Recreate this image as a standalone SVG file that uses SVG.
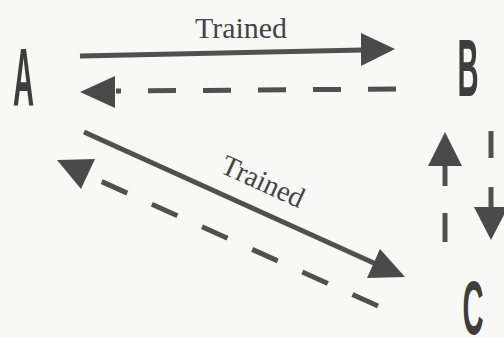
<svg xmlns="http://www.w3.org/2000/svg" width="504" height="337" viewBox="0 0 504 337">
  <style>
    .letter { font-family: "Liberation Sans", "DejaVu Sans", sans-serif; font-weight: bold; font-size: 81px; fill: #3d3d3d; text-anchor: middle; }
    .label { font-family: "Liberation Serif", "Times New Roman", serif; font-size: 29px; fill: #444; }
    .solid { stroke: #505050; stroke-width: 5; fill: none; }
    .dash { stroke: #505050; stroke-width: 5; fill: none; stroke-dasharray: 28 27; }
    .head { fill: #4a4a4a; stroke: none; }
  </style>
  <rect x="0" y="0" width="504" height="337" fill="#f8f8f6"/>

  <g id="node-A">
    <text class="letter" transform="translate(23.5,105) scale(0.36,1)" x="0" y="0">A</text>
  </g>
  <g id="node-B">
    <text class="letter" transform="translate(468,96) scale(0.36,1)" x="0" y="0">B</text>
  </g>
  <g id="node-C">
    <text class="letter" transform="translate(473,334) scale(0.36,0.93)" x="0" y="0">C</text>
  </g>

  <g id="connectors">
    <!-- A -> B trained (solid) -->
    <g id="edge-A-B">
      <line class="solid" x1="80" y1="56" x2="363" y2="50"/>
      <polygon class="head" points="361,33 395,49 361,66"/>
      <text class="label" x="195" y="38" textLength="92" lengthAdjust="spacingAndGlyphs">Trained</text>
    </g>
    <!-- B -> A (dashed) -->
    <g id="edge-B-A">
      <line class="dash" x1="396" y1="89" x2="116" y2="91"/>
      <polygon class="head" points="115,76 80,92 115,108"/>
    </g>
    <!-- A -> C trained (solid) -->
    <g id="edge-A-C">
      <line class="solid" x1="84" y1="132" x2="376" y2="264"/>
      <polygon class="head" points="380,249 405,277 367,278"/>
      <text class="label" transform="translate(219,172) rotate(24.5)" x="0" y="0" textLength="88" lengthAdjust="spacingAndGlyphs" font-size="28">Trained</text>
    </g>
    <!-- C -> A (dashed) -->
    <g id="edge-C-A">
      <line class="dash" x1="378" y1="306" x2="87" y2="175" stroke-dasharray="28 27.5"/>
      <polygon class="head" points="57,160 95,159 81,189"/>
    </g>
    <!-- C -> B (dashed, up) -->
    <g id="edge-C-B">
      <line class="solid" stroke-width="6" x1="445" y1="242" x2="445" y2="213"/>
      <line class="solid" stroke-width="6" x1="445" y1="186" x2="445" y2="164"/>
      <polygon class="head" points="428,166 445,132 462,166"/>
    </g>
    <!-- B -> C (dashed, down) -->
    <g id="edge-B-C">
      <line class="solid" stroke-width="6" x1="491" y1="131" x2="491" y2="158"/>
      <line class="solid" stroke-width="6" x1="491" y1="187" x2="491" y2="209"/>
      <polygon class="head" points="474,207 508,207 491,240"/>
    </g>
  </g>
</svg>
